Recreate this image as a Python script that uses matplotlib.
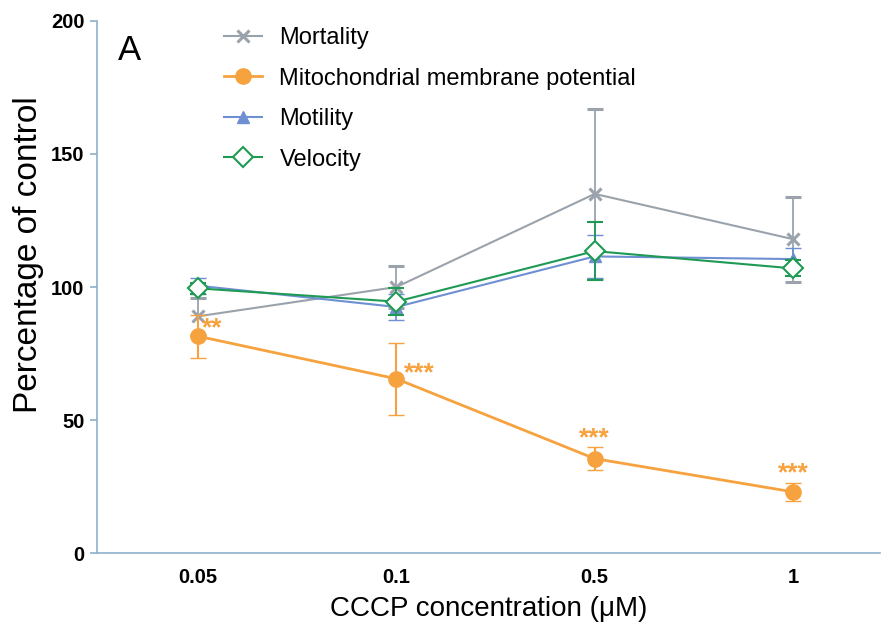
import matplotlib
matplotlib.use("Agg")
import matplotlib.pyplot as plt

# Данные с графика
concentrations = ["0.05", "0.1", "0.5", "1"]

mortality = [89, 100, 135, 118]
mortality_err = [7, 8, 32, 16]

mmp = [81.5, 65.5, 35.5, 23]
mmp_err = [8, 13.5, 4.3, 3.5]

motility = [100.5, 92.5, 111.5, 110.5]
motility_err = [3, 5, 8, 4]

velocity = [99.5, 94.5, 113.5, 107]
velocity_err = [2, 5, 11, 3]

mmp_stars = ["**", "***", "***", "***"]

plt.rcParams["font.family"] = ["Liberation Sans", "DejaVu Sans"]

axis_color = "#8fb0c8"
c_mort = "#9aa3ab"
c_mmp = "#f6a23e"
c_mot = "#6f8fd3"
c_vel = "#1f9a55"

fig = plt.figure(figsize=(8.9, 6.35), dpi=100)
ax = fig.add_axes([0.109, 0.129, 0.88, 0.838])

x = list(range(len(concentrations)))

ax.errorbar(x, mortality, yerr=mortality_err, color=c_mort, marker="x",
            markersize=9, markeredgewidth=2.2, linewidth=1.5, capsize=6,
            elinewidth=1.3, label="Mortality", zorder=2)
ax.errorbar(x, mmp, yerr=mmp_err, color=c_mmp, marker="o",
            markersize=11, linewidth=2, capsize=6, elinewidth=1.5,
            label="Mitochondrial membrane potential", zorder=3)
ax.errorbar(x, motility, yerr=motility_err, color=c_mot, marker="^",
            markersize=9, linewidth=1.5, capsize=6, elinewidth=1.3,
            label="Motility", zorder=3)
ax.errorbar(x, velocity, yerr=velocity_err, color=c_vel, marker="D",
            markersize=10, markerfacecolor="white", markeredgewidth=1.5,
            linewidth=1.5, capsize=6, elinewidth=1.3, label="Velocity", zorder=4)

# Звёздочки значимости
star_kw = dict(color=c_mmp, fontsize=19, fontweight="bold", va="center")
ax.text(x[0] + 0.02, mmp[0] + 3, mmp_stars[0], ha="left", **star_kw)
ax.text(x[1] + 0.04, mmp[1] + 2, mmp_stars[1], ha="left", **star_kw)
for i in (2, 3):
    ax.text(x[i], mmp[i] + mmp_err[i] + 3.5, mmp_stars[i], ha="center", **star_kw)

ax.set_xlim(-0.51, 3.44)
ax.set_ylim(0, 200)
ax.set_xticks(x)
ax.set_xticklabels(concentrations)
ax.set_yticks([0, 50, 100, 150, 200])

for s in ["top", "right"]:
    ax.spines[s].set_visible(False)
for s in ["left", "bottom"]:
    ax.spines[s].set_color(axis_color)
    ax.spines[s].set_linewidth(1.2)

ax.tick_params(axis="y", colors=axis_color, length=5, width=1.2,
               labelcolor="black", pad=4)
ax.tick_params(axis="x", length=0, pad=11, labelcolor="black")
for lbl in ax.get_xticklabels() + ax.get_yticklabels():
    lbl.set_fontweight("bold")
    lbl.set_fontsize(14.5)

ax.set_xlabel("CCCP concentration (μM)", fontsize=20, labelpad=6)
ax.set_ylabel("Percentage of control", fontsize=24)
ax.yaxis.set_label_coords(-0.068, 0.56)

ax.text(0.027, 0.975, "A", transform=ax.transAxes, fontsize=25, va="top", ha="left")

handles, labels = ax.get_legend_handles_labels()
handles = [h[0] for h in handles]
leg = ax.legend(handles, labels, loc="upper left", bbox_to_anchor=(0.135, 1.028),
                frameon=False, fontsize=17, handlelength=1.6, handletextpad=0.75,
                labelspacing=0.78)

fig.savefig("out.png", dpi=100)
